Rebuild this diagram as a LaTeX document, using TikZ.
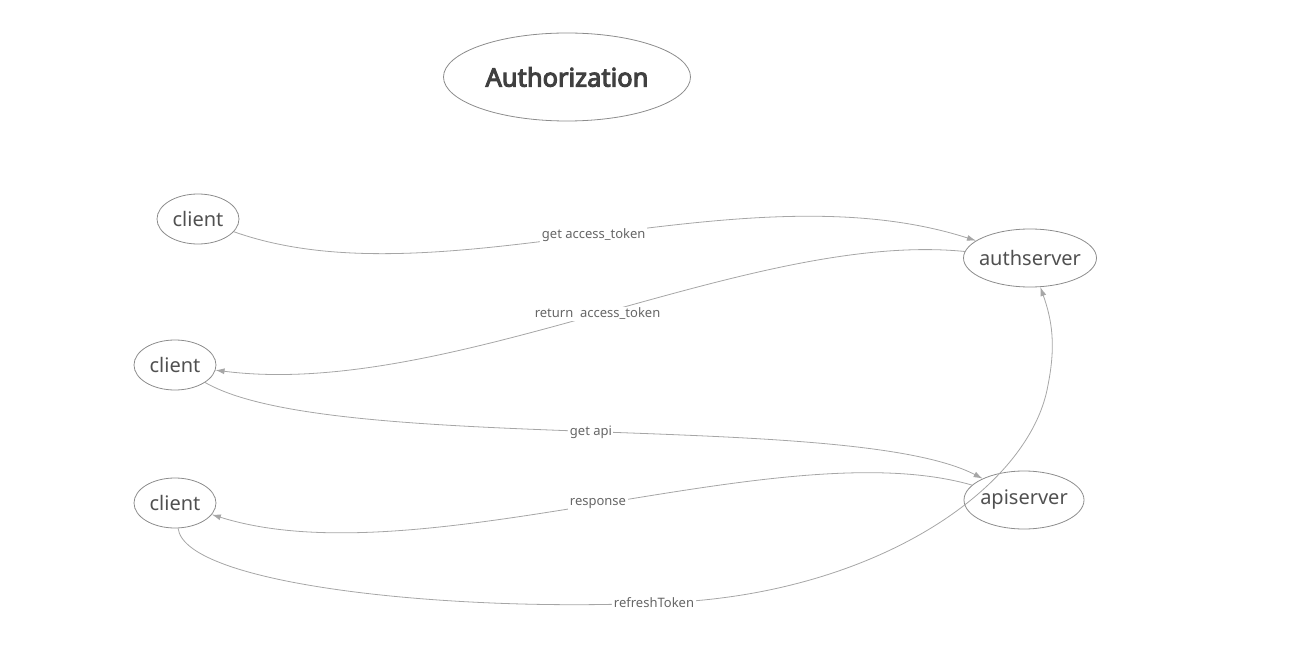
\documentclass[tikz,border=0pt]{standalone}
\usepackage{fontspec}
\setmainfont{Noto Sans}
\newfontfamily\titlefont{Noto Sans}[FakeBold=4]
\usetikzlibrary{shapes.geometric,arrows.meta}
\definecolor{nodeline}{HTML}{8C8C8C}
\definecolor{edgeline}{HTML}{A6A6A6}
\definecolor{nodetext}{HTML}{505050}
\definecolor{lbltext}{HTML}{666666}
\definecolor{titletext}{HTML}{404040}
\tikzset{
  ent/.style={ellipse, draw=nodeline, line width=0.8pt, inner sep=0pt, text=nodetext, font=\fontsize{20}{24}\selectfont},
  titlebox/.style={ellipse, draw=nodeline, line width=0.8pt, inner sep=0pt, text=titletext, font=\titlefont\fontsize{25.5}{30}\selectfont, minimum width=247pt, minimum height=88pt},
  conn/.style={draw=edgeline, line width=0.8pt, -{Latex[length=9pt,width=6pt]}},
  lbl/.style={fill=white, text=lbltext, inner sep=1.5pt, font=\fontsize{13}{15}\selectfont}
}
\begin{document}
\begin{tikzpicture}[x=1pt,y=-1pt]
\path[use as bounding box] (0,0) rectangle (1303,663);
\node[titlebox] (title) at (567,77) {Authorization};
\node[ent, minimum width=82pt, minimum height=50pt] (c1) at (198,219) {client};
\node[ent, minimum width=82pt, minimum height=50pt] (c2) at (175,365) {client};
\node[ent, minimum width=82pt, minimum height=50pt] (c3) at (175,503) {client};
\node[ent, minimum width=133pt, minimum height=58pt, inner xsep=-4pt] (auth) at (1030,258) {authserver};
\node[ent, minimum width=120pt, minimum height=58pt, inner xsep=-2pt] (api) at (1024,500) {apiserver};

\draw[conn] (c1) .. controls (440,305) and (740,165) .. node[lbl, pos=0.5] {get access\_token} (auth);
\draw[conn] (auth) .. controls (750,230) and (450,400) .. node[lbl, pos=0.5] {return\ \ access\_token} (c2);
\draw[conn] (c2) .. controls (330,455) and (850,410) .. node[lbl, pos=0.5] {get api} (api);
\draw[conn] (api) .. controls (780,430) and (420,580) .. node[lbl, pos=0.5] {response} (c3);
\coordinate (rt) at (654,603);
\coordinate (rb) at (1048,385);
\draw[conn] (c3) .. controls (185,585) and (450,612) .. (rt)
  .. controls (870,598) and (1030,490) .. (rb)
  .. controls (1056,345) and (1052,320) .. (auth);
\node[lbl] (rtl) at (rt) {refreshToken};
\end{tikzpicture}
\end{document}
